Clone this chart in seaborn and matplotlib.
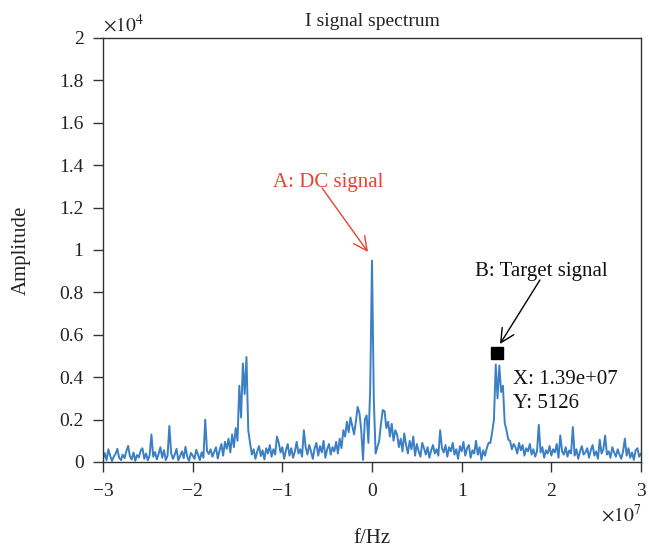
import numpy as np
import pandas as pd
import seaborn as sns
import matplotlib
matplotlib.use("Agg")
import matplotlib.pyplot as plt
from matplotlib.ticker import FuncFormatter

# ---- data (amplitude samples, f from -3e7 to 3e7 Hz, step 2e5) ----
f_start = -3e7
f_step = 2e5
amplitude = [
    150, 420, 80, 600, 300, 50, 250, 380, 620, 200,
    90, 350, 180, 500, 760, 280, 120, 450, 60, 330,
    220, 540, 650, 150, 400, 80, 310, 1300, 250, 470,
    120, 380, 700, 200, 560, 90, 300, 1700, 420, 150,
    350, 620, 80, 280, 500, 180, 720, 240, 60, 430,
    300, 150, 580, 350, 90, 460, 200, 2000, 520, 380,
    600, 250, 480, 700, 160, 540, 850, 300, 950, 620,
    1100, 450, 1300, 700, 1600, 1000, 3600, 2100, 4650, 3200,
    4950, 1500, 900, 350, 600, 150, 500, 750, 280, 550,
    120, 650, 400, 800, 250, 600, 350, 1200, 900, 450,
    700, 150, 550, 850, 300, 650, 200, 500, 950, 400,
    600, 250, 1500, 700, 350, 800, 500, 150, 650, 900,
    300, 750, 450, 1000, 200, 600, 850, 350, 700, 500,
    950, 400, 1100, 650, 1500, 1200, 1900, 1400, 2100, 1700,
    1300, 1900, 2600, 2300, 1500, 100, 2000, 2200, 900, 3500,
    9500, 3000, 400, 700, 1000, 1800, 2450, 2400, 1600, 1900,
    1200, 1800, 1000, 1500, 1300, 700, 1100, 500, 1350, 800,
    400, 1000, 600, 1200, 300, 850, 500, 250, 900, 650,
    350, 700, 200, 550, 800, 400, 600, 300, 1500, 650,
    450, 800, 250, 700, 500, 900, 350, 600, 150, 750,
    500, 950, 300, 650, 800, 200, 550, 400, 1000, 350,
    700, 100, 550, 300, 650, 900, 900, 1400, 2000, 4600,
    3000, 4550, 3300, 3600, 1850, 1500, 1050, 1000, 600, 850,
    700, 400, 900, 550, 800, 300, 650, 500, 850, 350,
    600, 250, 500, 1750, 450, 700, 200, 550, 400, 750,
    300, 600, 450, 850, 200, 1250, 500, 350, 700, 250,
    550, 400, 1650, 300, 600, 150, 500, 750, 350, 450,
    650, 200, 550, 800, 300, 500, 150, 1050, 400, 600,
    1250, 350, 500, 200, 700, 450, 250, 600, 350, 150,
    500, 1100, 300, 650, 200, 450, 100, 550, 650, 250,
    400,
]
freq = [f_start + i * f_step for i in range(len(amplitude))]

marker_x = 1.39e7
marker_y = 5126

x_ticks = [-3, -2, -1, 0, 1, 2, 3]
y_ticks = [0, 0.2, 0.4, 0.6, 0.8, 1, 1.2, 1.4, 1.6, 1.8, 2]

df = pd.DataFrame({"f": freq, "amp": amplitude})

sns.set_style("ticks")
plt.rcParams["font.family"] = ["Liberation Serif", "DejaVu Serif"]
plt.rcParams["mathtext.fontset"] = "stix"

fig = plt.figure(figsize=(6.49, 5.49), dpi=100)
ax = fig.add_axes([103/649, 1-462/549, 538/649, 424/549])

sns.lineplot(data=df, x="f", y="amp", ax=ax, color="#3B7FC4", linewidth=1.4)

ax.set_xlim(-3e7, 3e7)
ax.set_ylim(0, 2e4)
ax.set_xticks([t * 1e7 for t in x_ticks])
ax.set_yticks([t * 1e4 for t in y_ticks])

def fmt(v, scale):
    s = "%g" % (round(v / scale, 6))
    return s.replace("-", "\u2212")

ax.xaxis.set_major_formatter(FuncFormatter(lambda v, p: fmt(v, 1e7)))
ax.yaxis.set_major_formatter(FuncFormatter(lambda v, p: fmt(v, 1e4)))

for side in ["top", "right", "left", "bottom"]:
    ax.spines[side].set_visible(True)
    ax.spines[side].set_color("#333333")
    ax.spines[side].set_linewidth(1.0)
ax.tick_params(direction="out", length=7, width=1, color="#333333",
               labelsize=14, labelcolor="#222222", top=False, right=False)
ax.tick_params(axis="x", pad=8)
ax.tick_params(axis="y", pad=7)

ax.set_xlabel("f/Hz", fontsize=15, color="#222222", labelpad=21)
ax.set_ylabel("Amplitude", fontsize=15, color="#222222", labelpad=20)
ax.set_title("I signal spectrum", fontsize=14, color="#222222", pad=9)

ax.text(0.0, 1.005, r"$\times10^{4}$", transform=ax.transAxes, fontsize=14,
        ha="left", va="bottom", color="#222222")
ax.text(1.0, -0.098, r"$\times10^{7}$", transform=ax.transAxes, fontsize=14,
        ha="right", va="top", color="#222222")

# annotations
red = "#E8432E"
ax.annotate("", xy=(-0.045e7, 9906), xytext=(-0.557e7, 12925),
            arrowprops=dict(arrowstyle="->,head_length=0.7,head_width=0.35",
                            color=red, lw=1, mutation_scale=14, shrinkA=0, shrinkB=0))
ax.text(-0.49e7, 13200, "A: DC signal", color=red, fontsize=15,
        ha="center", va="center")

ax.annotate("", xy=(1.427e7, 5566), xytext=(1.873e7, 8585),
            arrowprops=dict(arrowstyle="->,head_length=0.7,head_width=0.35",
                            color="black", lw=1, mutation_scale=14, shrinkA=0, shrinkB=0))
ax.text(1.884e7, 9009, "B: Target signal", color="#111111", fontsize=15,
        ha="center", va="center")

ax.plot([marker_x], [marker_y], marker="s", markersize=9, color="black",
        linestyle="none")
ax.text(1.572e7, 3868, "X: 1.39e+07", fontsize=15, color="#111111",
        ha="left", va="center")
ax.text(1.572e7, 2736, "Y: %d" % marker_y, fontsize=15, color="#111111",
        ha="left", va="center")

fig.savefig("out.png", dpi=100)
